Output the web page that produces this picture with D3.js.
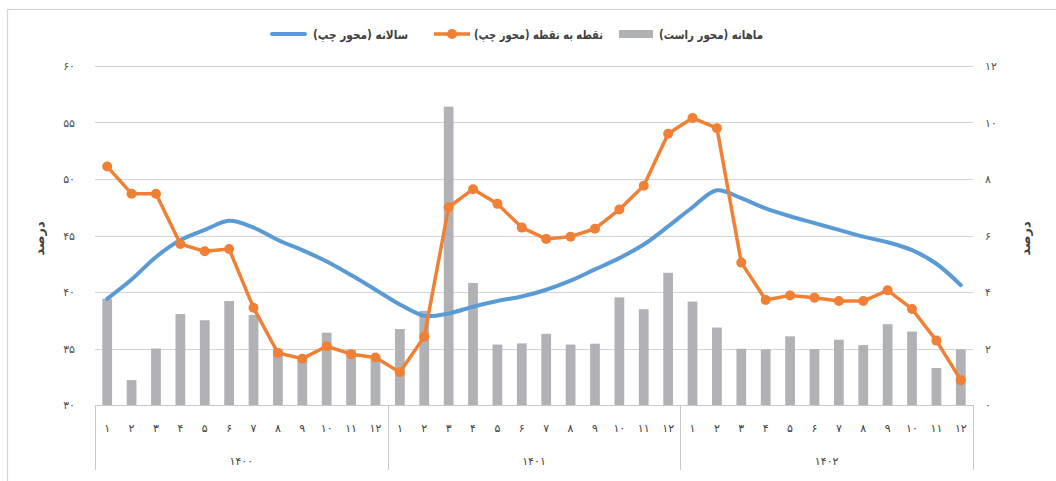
<!DOCTYPE html>
<html>
<head>
<meta charset="utf-8">
<script src="https://cdn.jsdelivr.net/npm/d3@7"></script>
<style>
  html, body { margin: 0; padding: 0; background: #ffffff; }
  svg { display: block; }
  text { font-family: "DejaVu Sans", "Noto Sans", sans-serif; }
</style>
</head>
<body>
<svg id="chart" width="1056" height="481"></svg>
<script>
// ---- data ----
const years = ["1400", "1401", "1402"];
const months = ["1","2","3","4","5","6","7","8","9","10","11","12"];
const annual = [39.4, 41.1, 43.1, 44.6, 45.5, 46.3, 45.7, 44.6, 43.7, 42.7, 41.5, 40.2,
                38.9, 37.9, 38.1, 38.7, 39.2, 39.6, 40.2, 41.0, 42.0, 43.0, 44.2, 45.8,
                47.5, 49.0, 48.3, 47.4, 46.7, 46.1, 45.5, 44.9, 44.4, 43.7, 42.5, 40.6];
const pointToPoint = [51.1, 48.7, 48.7, 44.25, 43.6, 43.8, 38.6, 34.6, 34.1, 35.2, 34.5, 34.2,
                      32.9, 36.05, 47.5, 49.1, 47.8, 45.7, 44.7, 44.9, 45.6, 47.3, 49.4, 54.0,
                      55.4, 54.5, 42.6, 39.3, 39.7, 39.5, 39.2, 39.2, 40.15, 38.5, 35.7, 32.2];
const monthly = [3.76, 0.88, 2.0, 3.22, 3.0, 3.68, 3.19, 2.0, 1.7, 2.56, 1.95, 1.77,
                 2.69, 3.33, 10.56, 4.32, 2.14, 2.18, 2.52, 2.14, 2.17, 3.81, 3.39, 4.68,
                 3.66, 2.74, 1.99, 1.97, 2.43, 1.98, 2.31, 2.12, 2.86, 2.6, 1.31, 1.97];
const leftTicks = [30, 35, 40, 45, 50, 55, 60];
const rightTicks = [0, 2, 4, 6, 8, 10, 12];
const legendLabels = ["سالانه (محور چپ)", "نقطه به نقطه (محور چپ)", "ماهانه (محور راست)"];
const axisTitle = "درصد";

// ---- helpers ----
const fa = s => String(s).replace(/\d/g, d => "۰۱۲۳۴۵۶۷۸۹"[+d]);
const keys = [];
years.forEach(y => months.forEach(m => keys.push(y + "-" + m)));

const svg = d3.select("#chart");
const M = { left: 95, right: 973, top: 66, bottom: 405 };

const x = d3.scaleBand().domain(keys).range([M.left, M.right]).paddingInner(0.6).paddingOuter(0.3);
const xc = k => x(k) + x.bandwidth() / 2;
const yL = d3.scaleLinear().domain([30, 60]).range([M.bottom, M.top]);
const yR = d3.scaleLinear().domain([0, 12]).range([M.bottom, M.top]);

const colBlue = "#5b9bd5", colOrange = "#f08035", colGray = "#b1b2b6", textCol = "#404040";

// outer frame
svg.append("rect").attr("x", 7.5).attr("y", 9.5).attr("width", 1100).attr("height", 600)
  .attr("fill", "none").attr("stroke", "#d4d4d4").attr("stroke-width", 1.2);

// gridlines
svg.append("g").selectAll("line").data(leftTicks.filter(t => t > 30)).join("line")
  .attr("x1", M.left).attr("x2", M.right)
  .attr("y1", d => Math.round(yL(d)) + 0.5).attr("y2", d => Math.round(yL(d)) + 0.5)
  .attr("stroke", "#d4d4d4").attr("stroke-width", 1);

// left axis labels
const gl = svg.append("g").attr("transform", `translate(${M.left - 20},0)`)
  .call(d3.axisLeft(yL).tickValues(leftTicks).tickSize(0).tickFormat(d => fa(d)));
gl.select(".domain").remove();
gl.selectAll("text").attr("font-size", 11).attr("fill", "#505050").attr("dy", "0.32em").attr("x", 0);

// right axis labels
const gr = svg.append("g").attr("transform", `translate(${M.right + 12},0)`)
  .call(d3.axisRight(yR).tickValues(rightTicks).tickSize(0).tickFormat(d => fa(d)));
gr.select(".domain").remove();
gr.selectAll("text").attr("font-size", 11).attr("fill", "#505050").attr("dy", "0.32em").attr("x", 0);

// axis titles
svg.append("text").attr("transform", `translate(44,${(M.top + M.bottom) / 2 + 3}) rotate(-90)`)
  .attr("text-anchor", "middle").attr("font-size", 13).attr("font-weight", "bold")
  .attr("fill", textCol).text(axisTitle);
svg.append("text").attr("transform", `translate(1030,${(M.top + M.bottom) / 2 + 3}) rotate(-90)`)
  .attr("text-anchor", "middle").attr("font-size", 13).attr("font-weight", "bold")
  .attr("fill", textCol).text(axisTitle);

// bars
svg.append("g").selectAll("rect").data(monthly).join("rect")
  .attr("x", (d, i) => x(keys[i]))
  .attr("width", x.bandwidth())
  .attr("y", d => yR(d))
  .attr("height", d => yR(0) - yR(d))
  .attr("fill", colGray);

// bottom axis line and separators
svg.append("line").attr("x1", M.left).attr("x2", M.right)
  .attr("y1", M.bottom + 0.5).attr("y2", M.bottom + 0.5).attr("stroke", "#c8c8c8");
const yearEdges = [0, 12, 24, 36].map(i => {
  if (i === 0) return M.left;
  if (i === 36) return M.right;
  return (x(keys[i - 1]) + x.bandwidth() + x(keys[i])) / 2;
});
svg.append("g").selectAll("line").data(yearEdges).join("line")
  .attr("x1", d => Math.round(d) + 0.5).attr("x2", d => Math.round(d) + 0.5)
  .attr("y1", M.bottom).attr("y2", 470).attr("stroke", "#c8c8c8");

// month labels
svg.append("g").selectAll("text").data(keys).join("text")
  .attr("x", d => xc(d)).attr("y", 432)
  .attr("text-anchor", "middle").attr("font-size", 11).attr("fill", textCol)
  .text(d => fa(d.split("-")[1]));

// year labels
svg.append("g").selectAll("text").data(years).join("text")
  .attr("x", (d, i) => (yearEdges[i] + yearEdges[i + 1]) / 2).attr("y", 465)
  .attr("text-anchor", "middle").attr("font-size", 11).attr("fill", textCol)
  .text(d => fa(d));

// annual line
const lineL = d3.line().x((d, i) => xc(keys[i])).y(d => yL(d)).curve(d3.curveCatmullRom.alpha(0.5));
svg.append("path").datum(annual).attr("d", lineL)
  .attr("fill", "none").attr("stroke", colBlue).attr("stroke-width", 4).attr("stroke-linecap", "round");

// point-to-point line
const lineP = d3.line().x((d, i) => xc(keys[i])).y(d => yL(d));
svg.append("path").datum(pointToPoint).attr("d", lineP)
  .attr("fill", "none").attr("stroke", colOrange).attr("stroke-width", 3.5).attr("stroke-linejoin", "round");
svg.append("g").selectAll("circle").data(pointToPoint).join("circle")
  .attr("cx", (d, i) => xc(keys[i])).attr("cy", d => yL(d)).attr("r", 5)
  .attr("fill", colOrange);

// legend
const lg = svg.append("g").attr("font-size", 12).attr("font-weight", "bold").attr("fill", textCol);
const legText = (xStart, w, label) => lg.append("text")
  .attr("x", xStart).attr("y", 39).attr("direction", "ltr").attr("text-anchor", "start")
  .attr("textLength", w).attr("lengthAdjust", "spacingAndGlyphs").text(label);
// blue
lg.append("line").attr("x1", 272).attr("x2", 305).attr("y1", 34).attr("y2", 34)
  .attr("stroke", colBlue).attr("stroke-width", 4).attr("stroke-linecap", "round");
legText(313, 95, legendLabels[0]);
// orange
lg.append("line").attr("x1", 434).attr("x2", 470).attr("y1", 34).attr("y2", 34)
  .attr("stroke", colOrange).attr("stroke-width", 3.5);
lg.append("circle").attr("cx", 452).attr("cy", 34).attr("r", 5).attr("fill", colOrange);
legText(474, 129, legendLabels[1]);
// gray
lg.append("rect").attr("x", 619).attr("y", 30).attr("width", 34).attr("height", 8).attr("fill", colGray);
legText(659, 104, legendLabels[2]);
</script>
</body>
</html>
